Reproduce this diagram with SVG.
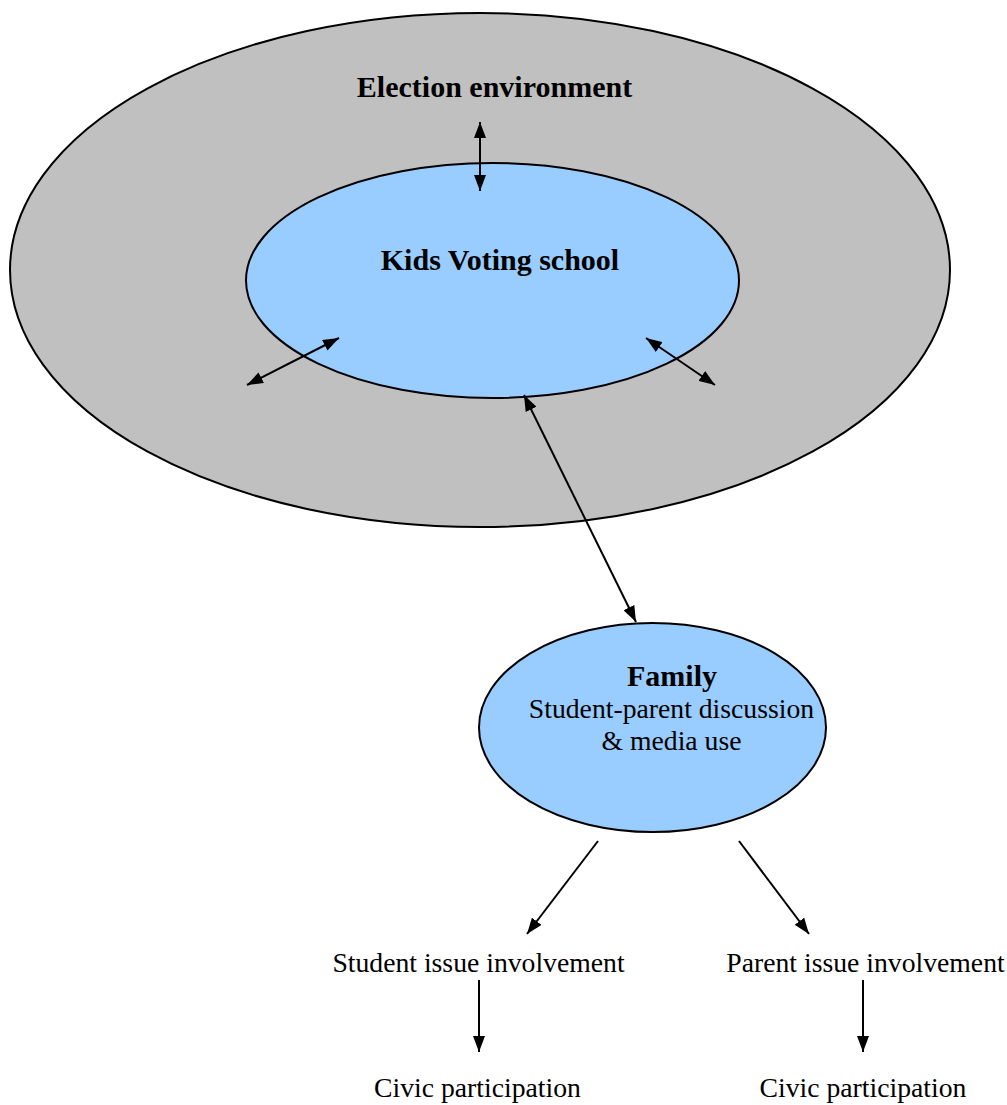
<svg xmlns="http://www.w3.org/2000/svg" width="1007" height="1105" viewBox="0 0 1007 1105">
<defs>
<style>
.t{font-family:"Liberation Serif","Times New Roman",serif;font-size:27.7px;fill:#000;text-anchor:middle}
.b{font-weight:bold;font-size:30px}
.e{stroke:#000;stroke-width:2}
.c{stroke:#000;stroke-width:2;fill:none}
</style>
<marker id="ah" viewBox="0 0 16 12" refX="16" refY="6" markerWidth="16" markerHeight="12" markerUnits="userSpaceOnUse" orient="auto-start-reverse">
<path d="M0,0 L16,6 L0,12 Z" fill="#000"/>
</marker>
</defs>
<rect width="1007" height="1105" fill="#fff"/>
<g id="election">
<ellipse class="e" cx="480" cy="270" rx="470" ry="257" fill="#C0C0C0"/>
<text class="t b" x="494.5" y="97">Election environment</text>
</g>
<g id="school">
<ellipse class="e" cx="492.5" cy="280.5" rx="246.5" ry="117.5" fill="#99CCFF"/>
<text class="t b" x="500" y="270">Kids Voting school</text>
</g>
<g id="family">
<ellipse class="e" cx="652.5" cy="727.5" rx="173.5" ry="104.5" fill="#99CCFF"/>
<text class="t b" x="672" y="686">Family</text>
<text class="t" x="671.5" y="718">Student-parent discussion</text>
<text class="t" x="671.5" y="750">&amp; media use</text>
</g>
<g id="student-issue"><text class="t" x="478.5" y="972">Student issue involvement</text></g>
<g id="parent-issue"><text class="t" x="865.5" y="972">Parent issue involvement</text></g>
<g id="civic-student"><text class="t" x="477.5" y="1097">Civic participation</text></g>
<g id="civic-parent"><text class="t" x="863" y="1097">Civic participation</text></g>
<g id="connectors">
<line class="c" x1="480" y1="122" x2="480" y2="191" marker-start="url(#ah)" marker-end="url(#ah)"/>
<line class="c" x1="247" y1="385" x2="339" y2="338" marker-start="url(#ah)" marker-end="url(#ah)"/>
<line class="c" x1="646" y1="338" x2="715" y2="385" marker-start="url(#ah)" marker-end="url(#ah)"/>
<line class="c" x1="524" y1="395" x2="636" y2="622" marker-start="url(#ah)" marker-end="url(#ah)"/>
<line class="c" x1="598" y1="841" x2="527" y2="934" marker-end="url(#ah)"/>
<line class="c" x1="739" y1="841" x2="809" y2="934" marker-end="url(#ah)"/>
<line class="c" x1="479" y1="980" x2="479" y2="1052" marker-end="url(#ah)"/>
<line class="c" x1="863" y1="980" x2="863" y2="1052" marker-end="url(#ah)"/>
</g>
</svg>
